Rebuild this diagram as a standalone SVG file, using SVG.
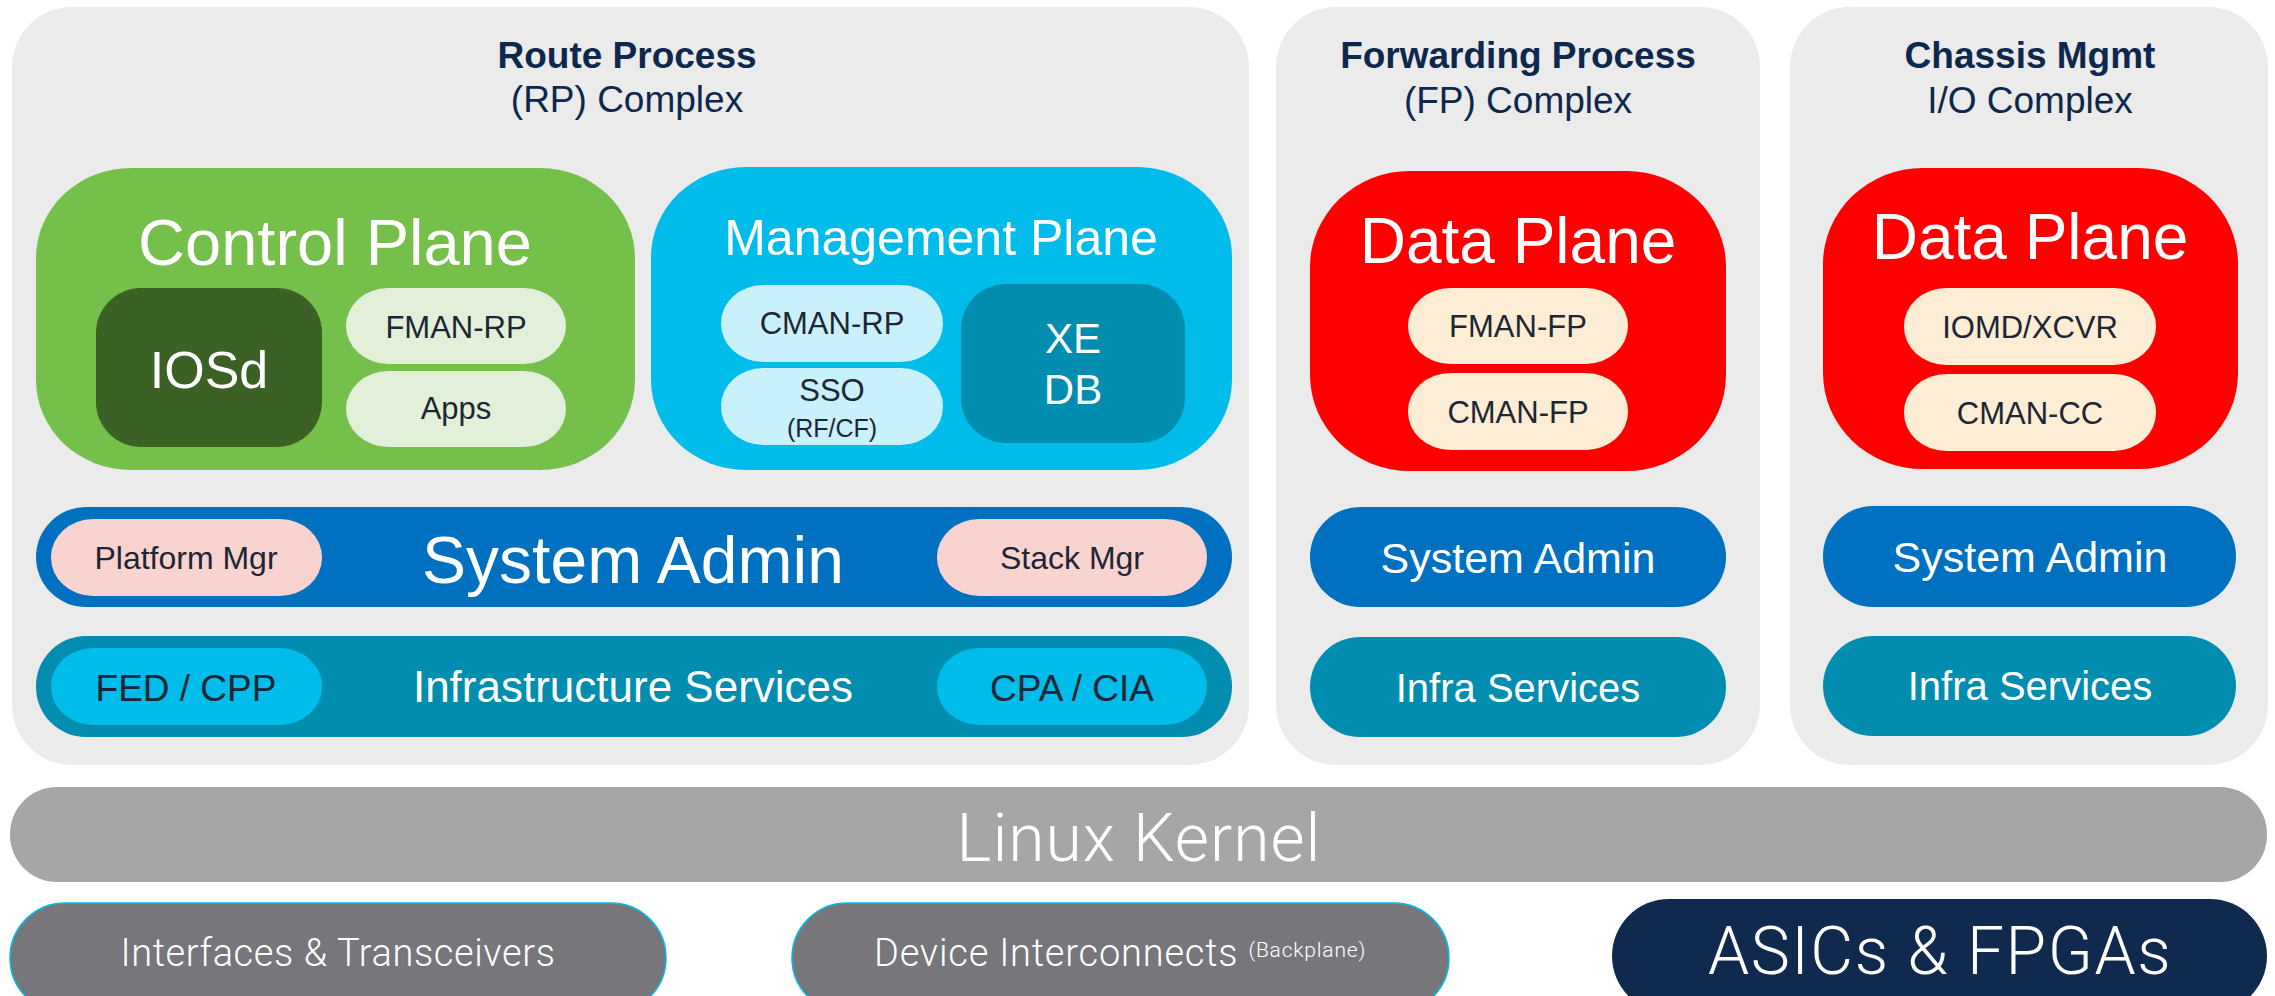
<svg xmlns="http://www.w3.org/2000/svg" width="2275" height="996" viewBox="0 0 2275 996">
  <style>
    text { font-family: "Liberation Sans", Arial, sans-serif; text-anchor: middle; }
    .panel { fill: #ebebeb; }
    .title { font-weight: bold; font-size: 37px; fill: #0d274d; }
    .sub { font-size: 37px; fill: #0d274d; }
    .white { fill: #ffffff; }
    .dark { fill: #1e2633; }
    .light { font-family: Roboto, "Liberation Sans", sans-serif; font-weight: 300; fill: #ffffff; }
    .pillg { fill: #e2f0d9; }
    .pillc { fill: #c9f1fc; }
    .pillp { fill: #f8d3d0; }
    .pilly { fill: #fcedd4; }
    .cyan { fill: #00bceb; }
    .teal { fill: #018db0; }
    .blue { fill: #0070c0; }
    .red { fill: #ff0000; }
    .hw { fill: #76767b; stroke: #00bceb; stroke-width: 1.5; }
  </style>

  <g id="rp-complex">
    <rect class="panel" x="12" y="7" width="1237" height="758" rx="60" ry="60"/>
    <text class="title" x="627" y="68">Route Process</text>
    <text class="sub" x="627" y="112">(RP) Complex</text>
  </g>
  <g id="fp-complex">
    <rect class="panel" x="1276" y="7" width="484" height="758" rx="60" ry="60"/>
    <text class="title" x="1518" y="68">Forwarding Process</text>
    <text class="sub" x="1518" y="113">(FP) Complex</text>
  </g>
  <g id="chassis-complex">
    <rect class="panel" x="1790" y="7" width="478" height="758" rx="60" ry="60"/>
    <text class="title" x="2030" y="68">Chassis Mgmt</text>
    <text class="sub" x="2030" y="113">I/O Complex</text>
  </g>

  <g id="control-plane">
    <rect x="36" y="168" width="599" height="302" rx="95" ry="90" fill="#75bf4b"/>
    <text class="white" x="335" y="265" font-size="65">Control Plane</text>
  </g>
  <g id="iosd">
    <rect x="96" y="288" width="226" height="159" rx="45" ry="45" fill="#3b6125"/>
    <text class="white" x="209" y="388" font-size="52">IOSd</text>
  </g>
  <g id="fman-rp">
    <rect class="pillg" x="346" y="288" width="220" height="76" rx="42" ry="38"/>
    <text class="dark" x="456" y="338" font-size="31">FMAN-RP</text>
  </g>
  <g id="apps">
    <rect class="pillg" x="346" y="371" width="220" height="76" rx="42" ry="38"/>
    <text class="dark" x="456" y="419" font-size="31">Apps</text>
  </g>

  <g id="management-plane">
    <rect class="cyan" x="651" y="167" width="581" height="303" rx="95" ry="90"/>
    <text class="white" x="941" y="255" font-size="50">Management Plane</text>
  </g>
  <g id="cman-rp">
    <rect class="pillc" x="721" y="285" width="222" height="77" rx="42" ry="38"/>
    <text class="dark" x="832" y="334" font-size="31">CMAN-RP</text>
  </g>
  <g id="sso">
    <rect class="pillc" x="721" y="368" width="222" height="77" rx="42" ry="38"/>
    <text class="dark" x="832" y="401" font-size="31">SSO</text>
    <text class="dark" x="832" y="437" font-size="25">(RF/CF)</text>
  </g>
  <g id="xe-db">
    <rect class="teal" x="961" y="284" width="224" height="159" rx="45" ry="45"/>
    <text class="white" x="1073" y="353" font-size="42">XE</text>
    <text class="white" x="1073" y="404" font-size="42">DB</text>
  </g>

  <g id="rp-system-admin">
    <rect class="blue" x="36" y="507" width="1196" height="100" rx="50" ry="50"/>
    <text class="white" x="633" y="583" font-size="66">System Admin</text>
  </g>
  <g id="platform-mgr">
    <rect class="pillp" x="51" y="519" width="271" height="77" rx="42" ry="38"/>
    <text class="dark" x="186" y="569" font-size="32">Platform Mgr</text>
  </g>
  <g id="stack-mgr">
    <rect class="pillp" x="937" y="519" width="270" height="77" rx="42" ry="38"/>
    <text class="dark" x="1072" y="569" font-size="32">Stack Mgr</text>
  </g>

  <g id="rp-infra">
    <rect class="teal" x="36" y="636" width="1196" height="101" rx="50" ry="50"/>
    <text class="white" x="633" y="702" font-size="44">Infrastructure Services</text>
  </g>
  <g id="fed-cpp">
    <rect class="cyan" x="51" y="648" width="271" height="77" rx="42" ry="38"/>
    <text class="dark" x="186" y="701" font-size="37">FED / CPP</text>
  </g>
  <g id="cpa-cia">
    <rect class="cyan" x="937" y="648" width="270" height="77" rx="42" ry="38"/>
    <text class="dark" x="1072" y="701" font-size="37">CPA / CIA</text>
  </g>

  <g id="fp-data-plane">
    <rect class="red" x="1310" y="171" width="416" height="300" rx="100" ry="96"/>
    <text class="white" x="1518" y="263" font-size="64">Data Plane</text>
  </g>
  <g id="fman-fp">
    <rect class="pilly" x="1408" y="288" width="220" height="76" rx="42" ry="38"/>
    <text class="dark" x="1518" y="337" font-size="31">FMAN-FP</text>
  </g>
  <g id="cman-fp">
    <rect class="pilly" x="1408" y="373" width="220" height="77" rx="42" ry="38"/>
    <text class="dark" x="1518" y="423" font-size="31">CMAN-FP</text>
  </g>
  <g id="fp-system-admin">
    <rect class="blue" x="1310" y="507" width="416" height="100" rx="50" ry="50"/>
    <text class="white" x="1518" y="573" font-size="43">System Admin</text>
  </g>
  <g id="fp-infra">
    <rect class="teal" x="1310" y="637" width="416" height="100" rx="50" ry="50"/>
    <text class="white" x="1518" y="702" font-size="40">Infra Services</text>
  </g>

  <g id="chassis-data-plane">
    <rect class="red" x="1823" y="168" width="415" height="301" rx="100" ry="96"/>
    <text class="white" x="2030" y="259" font-size="64">Data Plane</text>
  </g>
  <g id="iomd-xcvr">
    <rect class="pilly" x="1904" y="288" width="252" height="77" rx="42" ry="38"/>
    <text class="dark" x="2030" y="338" font-size="31">IOMD/XCVR</text>
  </g>
  <g id="cman-cc">
    <rect class="pilly" x="1904" y="374" width="252" height="77" rx="42" ry="38"/>
    <text class="dark" x="2030" y="424" font-size="31">CMAN-CC</text>
  </g>
  <g id="chassis-system-admin">
    <rect class="blue" x="1823" y="506" width="413" height="101" rx="50" ry="50"/>
    <text class="white" x="2030" y="572" font-size="43">System Admin</text>
  </g>
  <g id="chassis-infra">
    <rect class="teal" x="1823" y="636" width="413" height="100" rx="50" ry="50"/>
    <text class="white" x="2030" y="700" font-size="40">Infra Services</text>
  </g>

  <g id="linux-kernel">
    <rect x="10" y="787" width="2257" height="95" rx="47" ry="47" fill="#a6a6a6"/>
    <text class="light" x="1139" y="861" font-size="66" letter-spacing="1">Linux Kernel</text>
  </g>
  <g id="interfaces">
    <rect class="hw" x="10" y="903" width="656" height="110" rx="55" ry="55"/>
    <text class="light" x="338" y="966" font-size="38" letter-spacing="0.6">Interfaces &amp; Transceivers</text>
  </g>
  <g id="device-interconnects">
    <rect class="hw" x="792" y="903" width="657" height="110" rx="55" ry="55"/>
    <text class="light" x="1120" y="966" font-size="38" letter-spacing="0.8">Device Interconnects <tspan font-size="21" dy="-9">(Backplane)</tspan></text>
  </g>
  <g id="asics-fpgas">
    <rect x="1612" y="899" width="655" height="114" rx="57" ry="57" fill="#0f2a4e"/>
    <text class="light" x="1940" y="974" font-size="66" letter-spacing="1.5">ASICs &amp; FPGAs</text>
  </g>

  <g id="connectors"></g>
</svg>
